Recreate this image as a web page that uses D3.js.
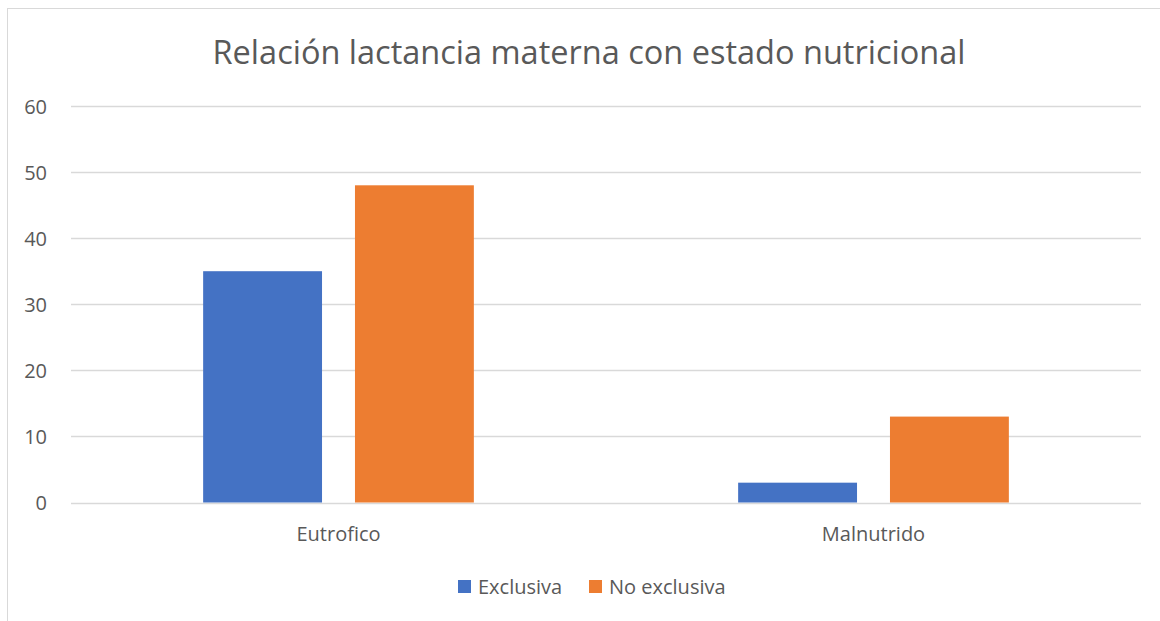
<!DOCTYPE html>
<html>
<head>
<meta charset="utf-8">
<script src="https://cdn.jsdelivr.net/npm/d3@7"></script>
<style>
  html, body { margin: 0; padding: 0; background: #fff; }
  svg { display: block; }
  text { font-family: "Open Sans", "Noto Sans", sans-serif; fill: #595959; }
</style>
</head>
<body>
<svg id="chart" width="1160" height="621"></svg>
<script>
// Chart data
const title = "Relación lactancia materna con estado nutricional";
const categories = ["Eutrofico", "Malnutrido"];
const seriesNames = ["Exclusiva", "No exclusiva"];
const exclusiva = [35, 3];
const noExclusiva = [48, 13];
const yTicks = [0, 10, 20, 30, 40, 50, 60];
const colors = ["#4472c4", "#ed7d31"];

const svg = d3.select("#chart");
const W = 1160, H = 621;
const plot = { left: 71, right: 1141, top: 106, bottom: 502.5 };
const labelSize = 20;

// Outer chart frame (runs off the right and bottom edges)
svg.append("rect")
  .attr("x", 7.5).attr("y", 8.5)
  .attr("width", W + 10).attr("height", H + 10)
  .attr("fill", "#fff").attr("stroke", "#d9d9d9").attr("stroke-width", 1);

const x0 = d3.scaleBand().domain(categories).range([plot.left, plot.right]).paddingInner(0).paddingOuter(0);
const groupW = x0.bandwidth() * 0.506;
const x1 = d3.scaleBand().domain(seriesNames).range([0, groupW]).paddingInner(0.217);
const y = d3.scaleLinear().domain([0, 60]).range([plot.bottom, plot.top]);

// Gridlines
svg.append("g").selectAll("line").data(yTicks).join("line")
  .attr("x1", plot.left).attr("x2", plot.right)
  .attr("y1", d => Math.round(y(d)) + 0.5).attr("y2", d => Math.round(y(d)) + 0.5)
  .attr("stroke", "#d9d9d9").attr("stroke-width", 1.3);

// Y axis labels
const yAxis = d3.axisLeft(y).tickValues(yTicks).tickSize(0).tickPadding(0);
const gy = svg.append("g").attr("transform", `translate(47,0)`).call(yAxis);
gy.select(".domain").remove();
gy.selectAll("text").attr("font-size", labelSize).attr("font-family", "Open Sans, sans-serif").attr("fill", "#595959").attr("dy", "0.35em");

// Bars
const data = categories.map((c, i) => ({ cat: c, vals: [exclusiva[i], noExclusiva[i]] }));
const groups = svg.append("g").selectAll("g").data(data).join("g")
  .attr("transform", d => `translate(${x0(d.cat) + (x0.bandwidth() - groupW) / 2},0)`);
groups.selectAll("rect").data(d => d.vals.map((v, j) => ({ s: seriesNames[j], v, j }))).join("rect")
  .attr("x", d => x1(d.s)).attr("width", x1.bandwidth())
  .attr("y", d => y(d.v)).attr("height", d => y(0) - y(d.v))
  .attr("fill", d => colors[d.j]);

// X axis labels
const xAxis = d3.axisBottom(x0).tickSize(0).tickPadding(0);
const gx = svg.append("g").attr("transform", `translate(0,${plot.bottom})`).call(xAxis);
gx.select(".domain").remove();
gx.selectAll("text").attr("font-size", labelSize).attr("font-family", "Open Sans, sans-serif").attr("fill", "#595959").attr("y", 0).attr("dy", 38);

// Title
svg.append("text").attr("x", 589).attr("y", 64).attr("text-anchor", "middle")
  .attr("font-size", 32.5).text(title);

// Legend
const legend = svg.append("g");
const legendX = [458, 589];
seriesNames.forEach((name, i) => {
  legend.append("rect").attr("x", legendX[i]).attr("y", 580).attr("width", 13).attr("height", 13).attr("fill", colors[i]);
  legend.append("text").attr("x", legendX[i] + 20).attr("y", 594).attr("font-size", labelSize).text(name);
});
</script>
</body>
</html>
